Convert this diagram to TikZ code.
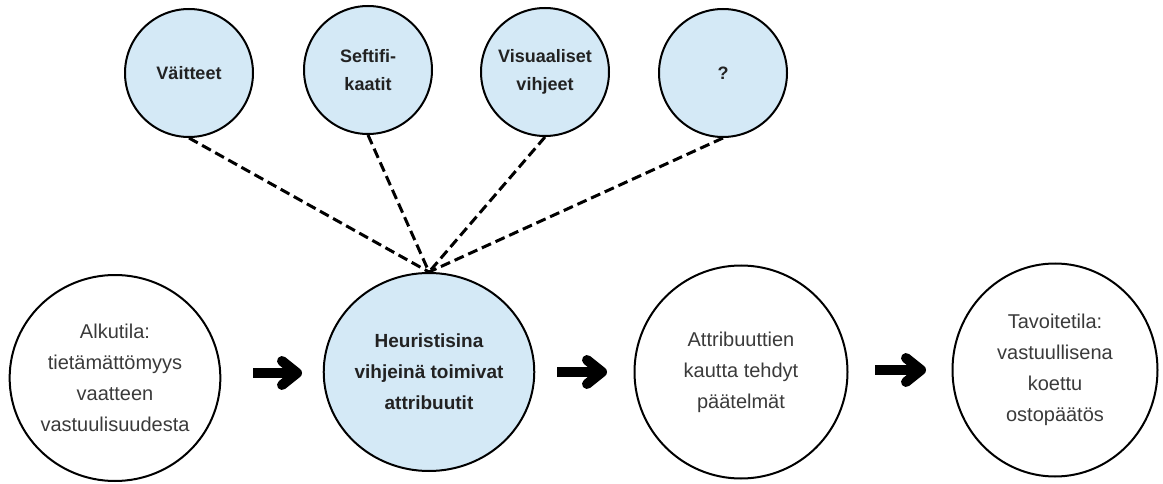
\documentclass[tikz,border=0pt]{standalone}
\usepackage{fontspec}
\setmainfont{Liberation Sans}
\usetikzlibrary{shapes.geometric,calc}
\definecolor{cueblue}{HTML}{D4E9F6}
\definecolor{bodytext}{HTML}{3A3A3A}
\definecolor{headtext}{HTML}{222222}
% thick block arrow: straight shaft plus a rounded chevron head
\newcommand\stagearrow[2]{%
  \draw[shaft] (#1) -- ($(#2)+(-3,0)$);
  \draw[chevron] ($(#2)+(-15,-12)$) -- (#2) -- ($(#2)+(-15,12)$);
}
\begin{document}
\begin{tikzpicture}[x=1pt,y=-1pt,
  cue/.style={circle, draw, line width=2pt, fill=cueblue, minimum size=128pt,
    inner sep=0pt, font=\fontsize{18}{28}\selectfont\bfseries, text=headtext, align=center},
  stage/.style={ellipse, draw, line width=2pt, inner sep=0pt,
    font=\fontsize{20}{31}\selectfont, text=bodytext, align=center},
  link/.style={line width=3pt, dash pattern=on 10pt off 5pt},
  shaft/.style={line width=10pt},
  chevron/.style={line width=10pt, line cap=round, line join=round}]

\useasboundingbox (0,0) rectangle (1163,484);

% cue circles along the top
\node[cue] (claims) at (189,73) {Väitteet};
\node[cue] (certs)  at (368,70) {Seftifi-\\kaatit};
\node[cue] (visual) at (545,72) {Visuaaliset\\vihjeet};
\node[cue] (other)  at (723,73) {?};

% process stages along the bottom
\node[stage, minimum width=210pt, minimum height=206pt] (start) at (115,378)
  {Alkutila:\\tietämättömyys\\vaatteen\\vastuulisuudesta};
\node[stage, fill=cueblue, minimum width=200pt, minimum height=198pt,
  font=\fontsize{19}{31}\selectfont\bfseries, text=headtext] (attr) at (429,372)
  {Heuristisina\\vihjeinä toimivat\\attribuutit};
\node[stage, minimum width=213pt, minimum height=213pt] (infer) at (741,372)
  {Attribuuttien\\kautta tehdyt\\päätelmät};
\node[stage, minimum width=205pt, minimum height=213pt] (goal) at (1055,370)
  {Tavoitetila:\\vastuullisena\\koettu\\ostopäätös};

% cues feeding the attribute stage
\foreach \n in {claims,certs,visual,other}
  \draw[link] (\n.south) -- (attr.north);

% arrows between stages
\coordinate (a1from) at (253,373); \coordinate (a1to) at (297,373);
\coordinate (a2from) at (557,372); \coordinate (a2to) at (602,372);
\coordinate (a3from) at (875,370); \coordinate (a3to) at (921,370);
\stagearrow{a1from}{a1to}
\stagearrow{a2from}{a2to}
\stagearrow{a3from}{a3to}
\end{tikzpicture}
\end{document}
